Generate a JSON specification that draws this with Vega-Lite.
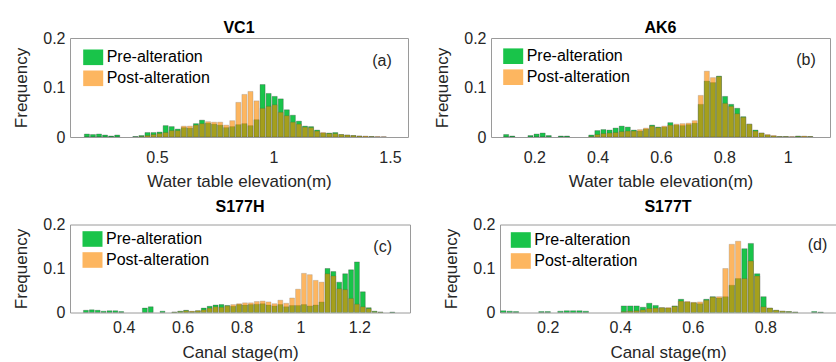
{
  "$schema": "https://vega.github.io/schema/vega-lite/v6.json",
  "padding": {"left": 12, "top": 19, "right": 0, "bottom": 0},
  "config": {
    "font": "Liberation Sans",
    "view": {"stroke": "#9a9a9a", "strokeWidth": 1},
    "axis": {"grid": false, "domain": false, "ticks": false, "labelFont": "Liberation Sans", "labelFontSize": 16, "labelColor": "#262626", "titleFont": "Liberation Sans", "titleFontSize": 17, "titleFontWeight": "normal", "titleColor": "#262626"},
    "axisY": {"labelPadding": 5, "titlePadding": 12},
    "axisX": {"labelPadding": 12.5, "titlePadding": 8},
    "legend": {"symbolType": "M-1,-0.78H1V0.78H-1Z", "symbolSize": 400, "labelFont": "Liberation Sans", "labelFontSize": 16, "labelColor": "#000000", "labelOffset": 3, "rowPadding": 1, "padding": 0, "symbolStrokeColor": "#555555", "symbolStrokeWidth": 0.6},
    "title": {"font": "Liberation Sans", "fontSize": 16, "fontWeight": "bold", "color": "#000000", "frame": "group", "anchor": "middle"}
  },
  "datasets": {
    "VC1": [
      {"lo":0.184,"hi":0.210,"Pre-alteration":0.006,"Post-alteration":0},
      {"lo":0.210,"hi":0.236,"Pre-alteration":0.005,"Post-alteration":0},
      {"lo":0.236,"hi":0.262,"Pre-alteration":0.006,"Post-alteration":0},
      {"lo":0.262,"hi":0.288,"Pre-alteration":0.004,"Post-alteration":0},
      {"lo":0.288,"hi":0.314,"Pre-alteration":0.002,"Post-alteration":0},
      {"lo":0.314,"hi":0.340,"Pre-alteration":0.004,"Post-alteration":0},
      {"lo":0.392,"hi":0.418,"Pre-alteration":0.001,"Post-alteration":0},
      {"lo":0.418,"hi":0.444,"Pre-alteration":0.003,"Post-alteration":0.001},
      {"lo":0.444,"hi":0.470,"Pre-alteration":0.009,"Post-alteration":0.003},
      {"lo":0.470,"hi":0.496,"Pre-alteration":0.009,"Post-alteration":0.005},
      {"lo":0.496,"hi":0.522,"Pre-alteration":0.010,"Post-alteration":0.007},
      {"lo":0.522,"hi":0.548,"Pre-alteration":0.023,"Post-alteration":0.009},
      {"lo":0.548,"hi":0.574,"Pre-alteration":0.021,"Post-alteration":0.013},
      {"lo":0.574,"hi":0.600,"Pre-alteration":0.016,"Post-alteration":0.013},
      {"lo":0.600,"hi":0.626,"Pre-alteration":0.019,"Post-alteration":0.022},
      {"lo":0.626,"hi":0.652,"Pre-alteration":0.018,"Post-alteration":0.022},
      {"lo":0.652,"hi":0.678,"Pre-alteration":0.027,"Post-alteration":0.024},
      {"lo":0.678,"hi":0.704,"Pre-alteration":0.034,"Post-alteration":0.027},
      {"lo":0.704,"hi":0.730,"Pre-alteration":0.028,"Post-alteration":0.031},
      {"lo":0.730,"hi":0.756,"Pre-alteration":0.026,"Post-alteration":0.030},
      {"lo":0.756,"hi":0.782,"Pre-alteration":0.024,"Post-alteration":0.030},
      {"lo":0.782,"hi":0.808,"Pre-alteration":0.019,"Post-alteration":0.024},
      {"lo":0.808,"hi":0.834,"Pre-alteration":0.021,"Post-alteration":0.033},
      {"lo":0.834,"hi":0.860,"Pre-alteration":0.025,"Post-alteration":0.070},
      {"lo":0.860,"hi":0.886,"Pre-alteration":0.027,"Post-alteration":0.086},
      {"lo":0.886,"hi":0.912,"Pre-alteration":0.023,"Post-alteration":0.092},
      {"lo":0.912,"hi":0.938,"Pre-alteration":0.035,"Post-alteration":0.073},
      {"lo":0.938,"hi":0.964,"Pre-alteration":0.106,"Post-alteration":0.058},
      {"lo":0.964,"hi":0.990,"Pre-alteration":0.088,"Post-alteration":0.062},
      {"lo":0.990,"hi":1.016,"Pre-alteration":0.082,"Post-alteration":0.065},
      {"lo":1.016,"hi":1.042,"Pre-alteration":0.077,"Post-alteration":0.050},
      {"lo":1.042,"hi":1.068,"Pre-alteration":0.055,"Post-alteration":0.043},
      {"lo":1.068,"hi":1.094,"Pre-alteration":0.044,"Post-alteration":0.030},
      {"lo":1.094,"hi":1.120,"Pre-alteration":0.032,"Post-alteration":0.026},
      {"lo":1.120,"hi":1.146,"Pre-alteration":0.022,"Post-alteration":0.020},
      {"lo":1.146,"hi":1.172,"Pre-alteration":0.021,"Post-alteration":0.019},
      {"lo":1.172,"hi":1.198,"Pre-alteration":0.014,"Post-alteration":0.012},
      {"lo":1.198,"hi":1.224,"Pre-alteration":0.008,"Post-alteration":0.009},
      {"lo":1.224,"hi":1.250,"Pre-alteration":0.008,"Post-alteration":0.007},
      {"lo":1.250,"hi":1.276,"Pre-alteration":0.009,"Post-alteration":0.007},
      {"lo":1.276,"hi":1.302,"Pre-alteration":0.005,"Post-alteration":0.005},
      {"lo":1.302,"hi":1.328,"Pre-alteration":0.004,"Post-alteration":0.004},
      {"lo":1.328,"hi":1.354,"Pre-alteration":0.003,"Post-alteration":0.003},
      {"lo":1.354,"hi":1.380,"Pre-alteration":0.002,"Post-alteration":0.002},
      {"lo":1.380,"hi":1.406,"Pre-alteration":0.001,"Post-alteration":0.002},
      {"lo":1.406,"hi":1.432,"Pre-alteration":0.001,"Post-alteration":0.001},
      {"lo":1.432,"hi":1.458,"Pre-alteration":0,"Post-alteration":0.001},
      {"lo":1.458,"hi":1.484,"Pre-alteration":0,"Post-alteration":0.0005}
    ],
    "AK6": [
      {"lo":0.1000,"hi":0.1192,"Pre-alteration":0.005,"Post-alteration":0},
      {"lo":0.1192,"hi":0.1384,"Pre-alteration":0.002,"Post-alteration":0},
      {"lo":0.1768,"hi":0.1960,"Pre-alteration":0.003,"Post-alteration":0},
      {"lo":0.1960,"hi":0.2152,"Pre-alteration":0.006,"Post-alteration":0},
      {"lo":0.2152,"hi":0.2344,"Pre-alteration":0.008,"Post-alteration":0},
      {"lo":0.2344,"hi":0.2536,"Pre-alteration":0.003,"Post-alteration":0},
      {"lo":0.2728,"hi":0.2920,"Pre-alteration":0.002,"Post-alteration":0},
      {"lo":0.2920,"hi":0.3112,"Pre-alteration":0.002,"Post-alteration":0},
      {"lo":0.3688,"hi":0.3880,"Pre-alteration":0.004,"Post-alteration":0.001},
      {"lo":0.3880,"hi":0.4072,"Pre-alteration":0.013,"Post-alteration":0.005},
      {"lo":0.4072,"hi":0.4264,"Pre-alteration":0.015,"Post-alteration":0.007},
      {"lo":0.4264,"hi":0.4456,"Pre-alteration":0.014,"Post-alteration":0.008},
      {"lo":0.4456,"hi":0.4648,"Pre-alteration":0.018,"Post-alteration":0.009},
      {"lo":0.4648,"hi":0.4840,"Pre-alteration":0.022,"Post-alteration":0.011},
      {"lo":0.4840,"hi":0.5032,"Pre-alteration":0.020,"Post-alteration":0.012},
      {"lo":0.5032,"hi":0.5224,"Pre-alteration":0.014,"Post-alteration":0.012},
      {"lo":0.5224,"hi":0.5416,"Pre-alteration":0.012,"Post-alteration":0.015},
      {"lo":0.5416,"hi":0.5608,"Pre-alteration":0.016,"Post-alteration":0.018},
      {"lo":0.5608,"hi":0.5800,"Pre-alteration":0.024,"Post-alteration":0.022},
      {"lo":0.5800,"hi":0.5992,"Pre-alteration":0.020,"Post-alteration":0.019},
      {"lo":0.5992,"hi":0.6184,"Pre-alteration":0.020,"Post-alteration":0.022},
      {"lo":0.6184,"hi":0.6376,"Pre-alteration":0.029,"Post-alteration":0.024},
      {"lo":0.6376,"hi":0.6568,"Pre-alteration":0.024,"Post-alteration":0.026},
      {"lo":0.6568,"hi":0.6760,"Pre-alteration":0.023,"Post-alteration":0.027},
      {"lo":0.6760,"hi":0.6952,"Pre-alteration":0.025,"Post-alteration":0.028},
      {"lo":0.6952,"hi":0.7144,"Pre-alteration":0.028,"Post-alteration":0.033},
      {"lo":0.7144,"hi":0.7336,"Pre-alteration":0.066,"Post-alteration":0.084},
      {"lo":0.7336,"hi":0.7528,"Pre-alteration":0.113,"Post-alteration":0.133},
      {"lo":0.7528,"hi":0.7720,"Pre-alteration":0.110,"Post-alteration":0.120},
      {"lo":0.7720,"hi":0.7912,"Pre-alteration":0.123,"Post-alteration":0.122},
      {"lo":0.7912,"hi":0.8104,"Pre-alteration":0.082,"Post-alteration":0.068},
      {"lo":0.8104,"hi":0.8296,"Pre-alteration":0.066,"Post-alteration":0.062},
      {"lo":0.8296,"hi":0.8488,"Pre-alteration":0.058,"Post-alteration":0.047},
      {"lo":0.8488,"hi":0.8680,"Pre-alteration":0.041,"Post-alteration":0.040},
      {"lo":0.8680,"hi":0.8872,"Pre-alteration":0.026,"Post-alteration":0.026},
      {"lo":0.8872,"hi":0.9064,"Pre-alteration":0.014,"Post-alteration":0.012},
      {"lo":0.9064,"hi":0.9256,"Pre-alteration":0.008,"Post-alteration":0.008},
      {"lo":0.9256,"hi":0.9448,"Pre-alteration":0.004,"Post-alteration":0.005},
      {"lo":0.9448,"hi":0.9640,"Pre-alteration":0.002,"Post-alteration":0.003},
      {"lo":0.9640,"hi":0.9832,"Pre-alteration":0.001,"Post-alteration":0.001},
      {"lo":0.9832,"hi":1.0024,"Pre-alteration":0.001,"Post-alteration":0.001},
      {"lo":1.0024,"hi":1.0216,"Pre-alteration":0,"Post-alteration":0.001},
      {"lo":1.0216,"hi":1.0408,"Pre-alteration":0.002,"Post-alteration":0.001},
      {"lo":1.0408,"hi":1.0600,"Pre-alteration":0.001,"Post-alteration":0.002},
      {"lo":1.0600,"hi":1.0792,"Pre-alteration":0.001,"Post-alteration":0.001}
    ],
    "S177H": [
      {"lo":0.26,"hi":0.28,"Pre-alteration":0.005,"Post-alteration":0},
      {"lo":0.28,"hi":0.30,"Pre-alteration":0.006,"Post-alteration":0},
      {"lo":0.30,"hi":0.32,"Pre-alteration":0.005,"Post-alteration":0},
      {"lo":0.32,"hi":0.34,"Pre-alteration":0.003,"Post-alteration":0},
      {"lo":0.34,"hi":0.36,"Pre-alteration":0.004,"Post-alteration":0},
      {"lo":0.36,"hi":0.38,"Pre-alteration":0.004,"Post-alteration":0},
      {"lo":0.38,"hi":0.40,"Pre-alteration":0.002,"Post-alteration":0},
      {"lo":0.46,"hi":0.48,"Pre-alteration":0.010,"Post-alteration":0},
      {"lo":0.48,"hi":0.50,"Pre-alteration":0.013,"Post-alteration":0},
      {"lo":0.52,"hi":0.54,"Pre-alteration":0.003,"Post-alteration":0},
      {"lo":0.56,"hi":0.58,"Pre-alteration":0.001,"Post-alteration":0.001},
      {"lo":0.58,"hi":0.60,"Pre-alteration":0.003,"Post-alteration":0.002},
      {"lo":0.60,"hi":0.62,"Pre-alteration":0.005,"Post-alteration":0.004},
      {"lo":0.62,"hi":0.64,"Pre-alteration":0.002,"Post-alteration":0.003},
      {"lo":0.64,"hi":0.66,"Pre-alteration":0.004,"Post-alteration":0.004},
      {"lo":0.66,"hi":0.68,"Pre-alteration":0.010,"Post-alteration":0.006},
      {"lo":0.68,"hi":0.70,"Pre-alteration":0.014,"Post-alteration":0.010},
      {"lo":0.70,"hi":0.72,"Pre-alteration":0.017,"Post-alteration":0.013},
      {"lo":0.72,"hi":0.74,"Pre-alteration":0.018,"Post-alteration":0.012},
      {"lo":0.74,"hi":0.76,"Pre-alteration":0.016,"Post-alteration":0.015},
      {"lo":0.76,"hi":0.78,"Pre-alteration":0.014,"Post-alteration":0.018},
      {"lo":0.78,"hi":0.80,"Pre-alteration":0.018,"Post-alteration":0.020},
      {"lo":0.80,"hi":0.82,"Pre-alteration":0.017,"Post-alteration":0.022},
      {"lo":0.82,"hi":0.84,"Pre-alteration":0.018,"Post-alteration":0.022},
      {"lo":0.84,"hi":0.86,"Pre-alteration":0.019,"Post-alteration":0.025},
      {"lo":0.86,"hi":0.88,"Pre-alteration":0.020,"Post-alteration":0.026},
      {"lo":0.88,"hi":0.90,"Pre-alteration":0.017,"Post-alteration":0.024},
      {"lo":0.90,"hi":0.92,"Pre-alteration":0.015,"Post-alteration":0.020},
      {"lo":0.92,"hi":0.94,"Pre-alteration":0.018,"Post-alteration":0.028},
      {"lo":0.94,"hi":0.96,"Pre-alteration":0.013,"Post-alteration":0.021},
      {"lo":0.96,"hi":0.98,"Pre-alteration":0.016,"Post-alteration":0.033},
      {"lo":0.98,"hi":1.00,"Pre-alteration":0.016,"Post-alteration":0.053},
      {"lo":1.00,"hi":1.02,"Pre-alteration":0.018,"Post-alteration":0.089},
      {"lo":1.02,"hi":1.04,"Pre-alteration":0.015,"Post-alteration":0.086},
      {"lo":1.04,"hi":1.06,"Pre-alteration":0.017,"Post-alteration":0.073},
      {"lo":1.06,"hi":1.08,"Pre-alteration":0.024,"Post-alteration":0.069},
      {"lo":1.08,"hi":1.10,"Pre-alteration":0.100,"Post-alteration":0.088},
      {"lo":1.10,"hi":1.12,"Pre-alteration":0.093,"Post-alteration":0.083},
      {"lo":1.12,"hi":1.14,"Pre-alteration":0.069,"Post-alteration":0.054},
      {"lo":1.14,"hi":1.16,"Pre-alteration":0.088,"Post-alteration":0.052},
      {"lo":1.16,"hi":1.18,"Pre-alteration":0.097,"Post-alteration":0.032},
      {"lo":1.18,"hi":1.20,"Pre-alteration":0.115,"Post-alteration":0.019},
      {"lo":1.20,"hi":1.22,"Pre-alteration":0.047,"Post-alteration":0.013},
      {"lo":1.22,"hi":1.24,"Pre-alteration":0.011,"Post-alteration":0.009},
      {"lo":1.24,"hi":1.26,"Pre-alteration":0.003,"Post-alteration":0.002},
      {"lo":1.26,"hi":1.28,"Pre-alteration":0.001,"Post-alteration":0.001},
      {"lo":1.30,"hi":1.32,"Pre-alteration":0.001,"Post-alteration":0}
    ],
    "S177T": [
      {"lo":0.0675,"hi":0.085,"Pre-alteration":0.004,"Post-alteration":0},
      {"lo":0.085,"hi":0.1025,"Pre-alteration":0.003,"Post-alteration":0},
      {"lo":0.1025,"hi":0.12,"Pre-alteration":0.002,"Post-alteration":0},
      {"lo":0.1725,"hi":0.19,"Pre-alteration":0.002,"Post-alteration":0},
      {"lo":0.19,"hi":0.2075,"Pre-alteration":0.002,"Post-alteration":0},
      {"lo":0.225,"hi":0.2425,"Pre-alteration":0.003,"Post-alteration":0},
      {"lo":0.2425,"hi":0.26,"Pre-alteration":0.004,"Post-alteration":0},
      {"lo":0.26,"hi":0.2775,"Pre-alteration":0.004,"Post-alteration":0},
      {"lo":0.2775,"hi":0.295,"Pre-alteration":0.004,"Post-alteration":0},
      {"lo":0.295,"hi":0.3125,"Pre-alteration":0.003,"Post-alteration":0},
      {"lo":0.4,"hi":0.4175,"Pre-alteration":0.015,"Post-alteration":0.002},
      {"lo":0.4175,"hi":0.435,"Pre-alteration":0.015,"Post-alteration":0.003},
      {"lo":0.435,"hi":0.4525,"Pre-alteration":0.015,"Post-alteration":0.004},
      {"lo":0.4525,"hi":0.47,"Pre-alteration":0.012,"Post-alteration":0.006},
      {"lo":0.47,"hi":0.4875,"Pre-alteration":0.021,"Post-alteration":0.009},
      {"lo":0.4875,"hi":0.505,"Pre-alteration":0.016,"Post-alteration":0.010},
      {"lo":0.505,"hi":0.5225,"Pre-alteration":0.011,"Post-alteration":0.011},
      {"lo":0.5225,"hi":0.54,"Pre-alteration":0.010,"Post-alteration":0.011},
      {"lo":0.54,"hi":0.5575,"Pre-alteration":0.015,"Post-alteration":0.014},
      {"lo":0.5575,"hi":0.575,"Pre-alteration":0.030,"Post-alteration":0.026},
      {"lo":0.575,"hi":0.5925,"Pre-alteration":0.024,"Post-alteration":0.025},
      {"lo":0.5925,"hi":0.61,"Pre-alteration":0.022,"Post-alteration":0.023},
      {"lo":0.61,"hi":0.6275,"Pre-alteration":0.020,"Post-alteration":0.024},
      {"lo":0.6275,"hi":0.645,"Pre-alteration":0.030,"Post-alteration":0.028},
      {"lo":0.645,"hi":0.6625,"Pre-alteration":0.036,"Post-alteration":0.035},
      {"lo":0.6625,"hi":0.68,"Pre-alteration":0.033,"Post-alteration":0.036},
      {"lo":0.68,"hi":0.6975,"Pre-alteration":0.036,"Post-alteration":0.100},
      {"lo":0.6975,"hi":0.715,"Pre-alteration":0.062,"Post-alteration":0.155},
      {"lo":0.715,"hi":0.7325,"Pre-alteration":0.077,"Post-alteration":0.162},
      {"lo":0.7325,"hi":0.75,"Pre-alteration":0.145,"Post-alteration":0.077},
      {"lo":0.75,"hi":0.7675,"Pre-alteration":0.157,"Post-alteration":0.117},
      {"lo":0.7675,"hi":0.785,"Pre-alteration":0.088,"Post-alteration":0.083},
      {"lo":0.785,"hi":0.8025,"Pre-alteration":0.036,"Post-alteration":0.013},
      {"lo":0.8025,"hi":0.82,"Pre-alteration":0.010,"Post-alteration":0.010},
      {"lo":0.82,"hi":0.8375,"Pre-alteration":0.005,"Post-alteration":0.005},
      {"lo":0.8375,"hi":0.855,"Pre-alteration":0.003,"Post-alteration":0.003},
      {"lo":0.855,"hi":0.8725,"Pre-alteration":0.002,"Post-alteration":0.002},
      {"lo":0.8725,"hi":0.89,"Pre-alteration":0.001,"Post-alteration":0.001},
      {"lo":0.925,"hi":0.9425,"Pre-alteration":0.002,"Post-alteration":0},
      {"lo":0.9425,"hi":0.96,"Pre-alteration":0.001,"Post-alteration":0}
    ]
  },
  "spacing": 7.5,
  "resolve": {"scale": {"x": "independent", "y": "independent", "color": "independent", "opacity": "independent"}},
  "vconcat": [
    {
      "spacing": 24,
      "resolve": {"scale": {"x": "independent", "y": "independent", "color": "independent", "opacity": "independent"}},
      "hconcat": [
        {
          "width": 338, "height": 99,
          "title": {"text": "VC1", "offset": -6},
          "layer": [
            {
              "data": {"name": "VC1"},
              "transform": [{"fold": ["Pre-alteration", "Post-alteration"], "as": ["series", "freq"]}],
              "mark": {"type": "bar", "clip": true, "stroke": "#333333", "strokeWidth": 0.5, "strokeOpacity": 0.55},
              "encoding": {
                "x": {"field": "lo", "type": "quantitative", "bin": "binned", "title": "Water table elevation(m)", "scale": {"domain": [0.1266, 1.5773], "nice": false, "zero": false}, "axis": {"values": [0.5, 1, 1.5], "format": "~g"}},
                "x2": {"field": "hi"},
                "y": {"field": "freq", "type": "quantitative", "stack": null, "title": "Frequency", "scale": {"domain": [0, 0.2], "nice": false}, "axis": {"values": [0, 0.1, 0.2], "format": "~g"}},
                "color": {"field": "series", "type": "nominal", "scale": {"domain": ["Pre-alteration", "Post-alteration"], "range": ["#19c44a", "#fc8a00"]}, "legend": {"title": null, "orient": "none", "legendX": 12.7, "legendY": 8.8}},
                "opacity": {"field": "series", "type": "nominal", "scale": {"domain": ["Pre-alteration", "Post-alteration"], "range": [1, 0.62]}, "legend": {"title": null, "orient": "none", "legendX": 12.7, "legendY": 8.8}},
                "order": {"field": "series", "sort": "descending"}
              }
            },
            {
              "data": {"values": [{"tag": "(a)", "tx": 1.466, "ty": 0.153}]},
              "mark": {"type": "text", "fontSize": 16, "color": "#262626", "font": "Liberation Sans"},
              "encoding": {
                "x": {"field": "tx", "type": "quantitative", "title": "Water table elevation(m)"},
                "y": {"field": "ty", "type": "quantitative", "title": "Frequency"},
                "text": {"field": "tag"}
              }
            }
          ]
        },
        {
          "width": 339, "height": 99,
          "title": {"text": "AK6", "offset": -6},
          "layer": [
            {
              "data": {"name": "AK6"},
              "transform": [{"fold": ["Pre-alteration", "Post-alteration"], "as": ["series", "freq"]}],
              "mark": {"type": "bar", "clip": true, "stroke": "#333333", "strokeWidth": 0.5, "strokeOpacity": 0.55},
              "encoding": {
                "x": {"field": "lo", "type": "quantitative", "bin": "binned", "title": "Water table elevation(m)", "scale": {"domain": [0.0633, 1.1337], "nice": false, "zero": false}, "axis": {"values": [0.2, 0.4, 0.6, 0.8, 1], "format": "~g"}},
                "x2": {"field": "hi"},
                "y": {"field": "freq", "type": "quantitative", "stack": null, "title": "Frequency", "scale": {"domain": [0, 0.2], "nice": false}, "axis": {"values": [0, 0.1, 0.2], "format": "~g"}},
                "color": {"field": "series", "type": "nominal", "scale": {"domain": ["Pre-alteration", "Post-alteration"], "range": ["#19c44a", "#fc8a00"]}, "legend": {"title": null, "orient": "none", "legendX": 11.7, "legendY": 7.7}},
                "opacity": {"field": "series", "type": "nominal", "scale": {"domain": ["Pre-alteration", "Post-alteration"], "range": [1, 0.62]}, "legend": {"title": null, "orient": "none", "legendX": 11.7, "legendY": 7.7}},
                "order": {"field": "series", "sort": "descending"}
              }
            },
            {
              "data": {"values": [{"tag": "(b)", "tx": 1.058, "ty": 0.155}]},
              "mark": {"type": "text", "fontSize": 16, "color": "#262626", "font": "Liberation Sans"},
              "encoding": {
                "x": {"field": "tx", "type": "quantitative", "title": "Water table elevation(m)"},
                "y": {"field": "ty", "type": "quantitative", "title": "Frequency"},
                "text": {"field": "tag"}
              }
            }
          ]
        }
      ]
    },
    {
      "spacing": 31,
      "resolve": {"scale": {"x": "independent", "y": "independent", "color": "independent", "opacity": "independent"}},
      "hconcat": [
        {
          "width": 340, "height": 88,
          "title": {"text": "S177H", "offset": 2},
          "layer": [
            {
              "data": {"name": "S177H"},
              "transform": [{"fold": ["Pre-alteration", "Post-alteration"], "as": ["series", "freq"]}],
              "mark": {"type": "bar", "clip": true, "stroke": "#333333", "strokeWidth": 0.5, "strokeOpacity": 0.55},
              "encoding": {
                "x": {"field": "lo", "type": "quantitative", "bin": "binned", "title": "Canal stage(m)", "scale": {"domain": [0.2177, 1.3718], "nice": false, "zero": false}, "axis": {"values": [0.4, 0.6, 0.8, 1, 1.2], "format": "~g", "labelPadding": 7.1, "titlePadding": 9.2}},
                "x2": {"field": "hi"},
                "y": {"field": "freq", "type": "quantitative", "stack": null, "title": "Frequency", "scale": {"domain": [0, 0.2], "nice": false}, "axis": {"values": [0, 0.1, 0.2], "format": "~g"}},
                "color": {"field": "series", "type": "nominal", "scale": {"domain": ["Pre-alteration", "Post-alteration"], "range": ["#19c44a", "#fc8a00"]}, "legend": {"title": null, "orient": "none", "legendX": 12, "legendY": 4}},
                "opacity": {"field": "series", "type": "nominal", "scale": {"domain": ["Pre-alteration", "Post-alteration"], "range": [1, 0.62]}, "legend": {"title": null, "orient": "none", "legendX": 12, "legendY": 4}},
                "order": {"field": "series", "sort": "descending"}
              }
            },
            {
              "data": {"values": [{"tag": "(c)", "tx": 1.279, "ty": 0.149}]},
              "mark": {"type": "text", "fontSize": 16, "color": "#262626", "font": "Liberation Sans"},
              "encoding": {
                "x": {"field": "tx", "type": "quantitative", "title": "Canal stage(m)"},
                "y": {"field": "ty", "type": "quantitative", "title": "Frequency"},
                "text": {"field": "tag"}
              }
            }
          ]
        },
        {
          "width": 336, "height": 88,
          "title": {"text": "S177T", "offset": 2},
          "layer": [
            {
              "data": {"name": "S177T"},
              "transform": [{"fold": ["Pre-alteration", "Post-alteration"], "as": ["series", "freq"]}],
              "mark": {"type": "bar", "clip": true, "stroke": "#333333", "strokeWidth": 0.5, "strokeOpacity": 0.55},
              "encoding": {
                "x": {"field": "lo", "type": "quantitative", "bin": "binned", "title": "Canal stage(m)", "scale": {"domain": [0.0685, 0.995], "nice": false, "zero": false}, "axis": {"values": [0.2, 0.4, 0.6, 0.8], "format": "~g", "labelPadding": 7.1, "titlePadding": 9.2}},
                "x2": {"field": "hi"},
                "y": {"field": "freq", "type": "quantitative", "stack": null, "title": "Frequency", "scale": {"domain": [0, 0.2], "nice": false}, "axis": {"values": [0, 0.1, 0.2], "format": "~g"}},
                "color": {"field": "series", "type": "nominal", "scale": {"domain": ["Pre-alteration", "Post-alteration"], "range": ["#19c44a", "#fc8a00"]}, "legend": {"title": null, "orient": "none", "legendX": 10.3, "legendY": 5}},
                "opacity": {"field": "series", "type": "nominal", "scale": {"domain": ["Pre-alteration", "Post-alteration"], "range": [1, 0.62]}, "legend": {"title": null, "orient": "none", "legendX": 10.3, "legendY": 5}},
                "order": {"field": "series", "sort": "descending"}
              }
            },
            {
              "data": {"values": [{"tag": "(d)", "tx": 0.944, "ty": 0.154}]},
              "mark": {"type": "text", "fontSize": 16, "color": "#262626", "font": "Liberation Sans"},
              "encoding": {
                "x": {"field": "tx", "type": "quantitative", "title": "Canal stage(m)"},
                "y": {"field": "ty", "type": "quantitative", "title": "Frequency"},
                "text": {"field": "tag"}
              }
            }
          ]
        }
      ]
    }
  ]
}
